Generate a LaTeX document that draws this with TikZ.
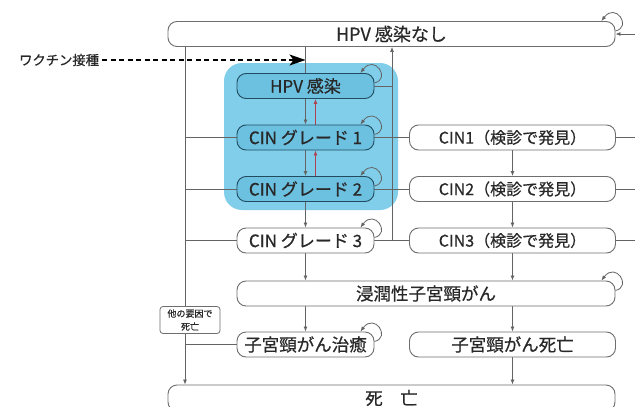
\documentclass[tikz,border=0pt]{standalone}
\usepackage{fontspec}
\setmainfont{Noto Sans CJK JP}[FakeBold=0.6]
\usetikzlibrary{arrows.meta,calc}
\pgfdeclarelayer{bglayer}
\pgfdeclarelayer{backlayer}
\pgfsetlayers{bglayer,backlayer,main}
\definecolor{lgray}{RGB}{100,100,100}
\definecolor{bgray}{RGB}{110,110,110}
\definecolor{txtc}{RGB}{40,40,40}
\definecolor{bluebg}{RGB}{128,206,234}
\definecolor{bluein}{RGB}{108,193,225}
\definecolor{bluedk}{RGB}{35,75,95}
\definecolor{redar}{RGB}{175,65,80}
\newcommand\fontTop{\fontsize{18}{20}\selectfont}
\newcommand\fontBig{\fontsize{17.5}{19}\selectfont}
\newcommand\fontMid{\fontsize{17}{19}\selectfont}
\newcommand\fontDet{\fontsize{16}{18}\selectfont}
\newcommand\fontVac{\fontsize{13.3}{15}\selectfont}
\newcommand\fontTiny{\fontsize{9}{13}\selectfont}
\begin{document}
\begin{tikzpicture}[x=1pt,y=-1pt,
  stbox/.style={draw=bgray, line width=0.9pt, rounded corners=9pt, fill=white,
    minimum height=25pt, inner sep=0pt, text=txtc, font=\fontBig},
  bluebox/.style={stbox, fill=bluein, draw=bluedk, font=\fontMid},
  cinbox/.style={stbox, font=\fontMid},
  detbox/.style={stbox, font=\fontDet},
  smallbox/.style={draw=bgray, line width=0.8pt, rounded corners=3pt, fill=white,
    minimum width=60pt, minimum height=27pt, inner sep=1pt, align=center,
    text=txtc, font=\fontTiny},
  conn/.style={draw=lgray, line width=0.8pt},
  arr/.style={conn, -{Latex[length=5pt,width=4pt]}},
  redarr/.style={draw=redar, line width=0.8pt, -{Latex[length=5pt,width=4pt]}},
  vacarr/.style={draw=black, line width=1.3pt, dash pattern=on 5pt off 3.5pt,
    -{Stealth[length=16pt,width=11pt,inset=4pt]}}
]
\clip (0,0) rectangle (635,407);
\begin{pgfonlayer}{bglayer}
\fill[white] (0,0) rectangle (635,407);
\fill[bluebg, rounded corners=18pt] (224,63) rectangle (398,210);
\end{pgfonlayer}

% nodes
\node[stbox, minimum width=447pt, font=\fontTop] (top) at (391.5,34) {HPV 感染なし};
\node[bluebox, minimum width=137pt] (hpv) at (305.5,86) {HPV 感染};
\node[bluebox, minimum width=137pt] (cin1) at (305.5,137.5) {CIN グレード 1};
\node[bluebox, minimum width=137pt] (cin2) at (305.5,189) {CIN グレード 2};
\node[cinbox, minimum width=137pt] (cin3) at (305.5,240.5) {CIN グレード 3};
\node[detbox, minimum width=206pt] (k1) at (512.5,137.5) {CIN1（検診で発見）};
\node[detbox, minimum width=206pt] (k2) at (512.5,189) {CIN2（検診で発見）};
\node[detbox, minimum width=206pt] (k3) at (512.5,240.5) {CIN3（検診で発見）};
\node[stbox, minimum width=378pt] (inv) at (426,293.5) {浸潤性子宮頸がん};
\node[stbox, minimum width=137pt] (cure) at (305.5,344.5) {子宮頸がん治癒};
\node[stbox, minimum width=206pt] (cd) at (512.5,344.5) {子宮頸がん死亡};
\node[stbox, minimum width=447pt, minimum height=26pt] (death) at (391.5,398) {死　亡};
\node[smallbox] (other) at (190,320) {他の要因で\\死亡};
\node[anchor=west, inner sep=0pt, text=txtc, font=\fontVac] (vac) at (19,60) {ワクチン接種};

\coordinate (L) at (185,0);
\coordinate (V) at (392,0);
\coordinate (R) at (645,0);

\begin{pgfonlayer}{backlayer}
% middle column
\draw[conn] (hpv.north |- top.south) -- (hpv.north);
\draw[arr] (hpv.south) -- (cin1.north);
\draw[arr] (cin1.south) -- (cin2.north);
\draw[arr] (cin2.south) -- (cin3.north);
\draw[arr] (cin3.south) -- (cin3.south |- inv.north);
\draw[arr] (cin3.south |- inv.south) -- (cure.north);
\draw[redarr] ($(cin1.north)+(10,0)$) -- ($(hpv.south)+(10,0)$);
\draw[redarr] ($(cin2.north)+(10,0)$) -- ($(cin1.south)+(10,0)$);
% right column
\draw[arr] (k1.south) -- (k2.north);
\draw[arr] (k2.south) -- (k3.north);
\draw[arr] (k3.south) -- (k3.south |- inv.north);
\draw[arr] (k3.south |- inv.south) -- (cd.north);
\draw[arr] (cd.south) -- (cd.south |- death.north);
% regression line
\draw[arr] (cin3.east -| V) -- (top.south -| V);
\draw[conn] (hpv.east) -- (hpv.east -| V);
\draw[conn] (cin1.east) -- (k1.west);
\draw[conn] (cin2.east) -- (k2.west);
\draw[conn] (cin3.east) -- (k3.west);
% left line
\draw[arr] (top.south -| L) -- (death.north -| L);
\draw[conn] (cin1.west) -- (cin1.west -| L);
\draw[conn] (cin2.west) -- (cin2.west -| L);
\draw[conn] (cin3.west) -- (cin3.west -| L);
\draw[conn] (cure.west) -- (cure.west -| L);
% right edge
\draw[conn] (k1.east) -- (k1.east -| R);
\draw[conn] (k2.east) -- (k2.east -| R);
\draw[conn] (k3.east) -- (k3.east -| R);
\draw[arr] (top.east -| R) -- (top.east);
\end{pgfonlayer}

% vaccine
\draw[vacarr] (vac.east) ++(3,0) -- (vac.east -| hpv.north);

% self loops
\foreach \n in {top,hpv,cin1,cin2,cin3,inv,cure}{
  \draw[arr] ($(\n.east)+(0,-3)$) .. controls +(17,-4) and +(14,-19) .. ($(\n.north east)+(-14,0)$);
}
\end{tikzpicture}
\end{document}
